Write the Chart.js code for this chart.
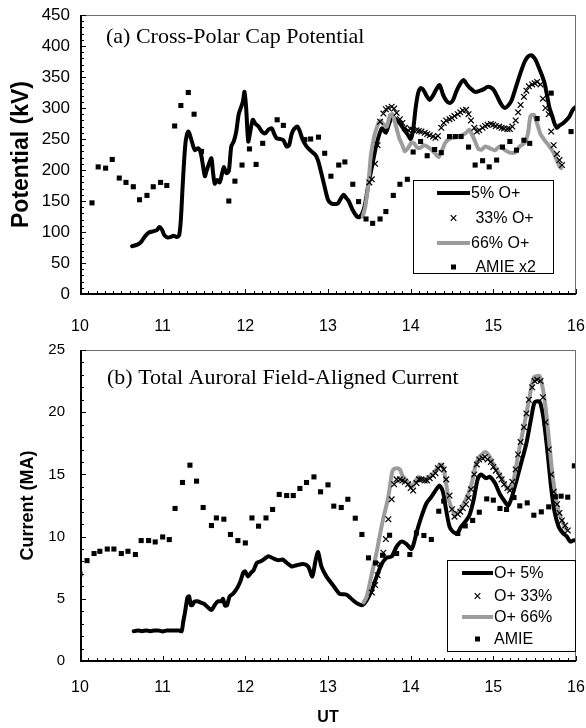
<!DOCTYPE html>
<html>
<head>
<meta charset="utf-8">
<script src="https://cdn.jsdelivr.net/npm/chart.js@4.4.1/dist/chart.umd.min.js"></script>
<style>
  html, body { margin: 0; padding: 0; background: #fff; }
  #wrap { position: relative; width: 586px; height: 728px; }
  canvas { position: absolute; left: 0; }
  #cTop { top: 0; }
  #cBot { top: 340px; }
</style>
</head>
<body>
<div id="wrap">
  <canvas id="cTop" width="586" height="340"></canvas>
  <canvas id="cBot" width="586" height="388"></canvas>
</div>
<script>
// ---------- (a) Cross-polar cap potential, kV ----------
const potTime5 = [10.63,10.70,10.74,10.78,10.83,10.88,10.93,10.96,10.99,11.02,
  11.06,11.10,11.13,11.17,11.20,11.22,11.24,11.26,11.28,11.31,
  11.34,11.37,11.39,11.43,11.46,11.49,11.51,11.53,11.56,11.59,
  11.61,11.63,11.66,11.69,11.72,11.74,11.77,11.80,11.83,11.86,
  11.89,11.92,11.95,11.97,11.99,12.01,12.035,12.06,12.09,12.12,
  12.16,12.20,12.24,12.28,12.32,12.35,12.38,12.42,12.46,12.50,
  12.53,12.56,12.59,12.63,12.66,12.69,12.74,12.80,12.85,12.88,
  12.91,12.95,13.00,13.04,13.09,13.12,13.16,13.19,13.22,13.25,
  13.30,13.35,13.38,13.42,13.45,13.49,13.54,13.59,13.65,13.70,
  13.74,13.78,13.82,13.87,13.92,13.97,14.00,14.03,14.06,14.09,
  14.12,14.15,14.19,14.23,14.27,14.31,14.35,14.39,14.43,14.47,
  14.51,14.55,14.59,14.64,14.68,14.72,14.78,14.84,14.88,14.93,
  14.97,15.01,15.06,15.10,15.14,15.18,15.22,15.26,15.30,15.34,
  15.38,15.42,15.46,15.50,15.53,15.56,15.59,15.62,15.65,15.68,
  15.71,15.74,15.77,15.80,15.84,15.88,15.92,15.96,16.00];
const potO5 = [77,80,84,92,99,101,103,108,104,95,
  91,92,94,92,95,120,170,216,248,262,
  252,238,232,235,228,205,190,198,210,219,
  195,178,184,180,195,205,195,198,238,246,
  262,290,302,310,326,300,246,262,281,275,
  270,262,259,265,267,258,251,250,248,238,
  240,258,266,270,262,250,238,230,224,215,
  200,178,152,146,145,146,155,160,155,150,
  135,125,124,132,146,178,211,243,267,260,
  275,286,282,275,265,256,250,265,300,324,
  332,330,320,313,320,330,337,322,312,308,
  312,326,337,345,338,332,326,328,330,334,
  333,328,315,305,300,304,312,328,345,361,
  375,383,385,380,372,362,352,340,320,300,
  288,275,268,272,275,280,286,297,302];

const potTime33 = [13.50,13.53,13.57,13.60,13.63,13.67,13.70,13.73,13.77,13.80,
  13.83,13.87,13.90,13.93,13.97,14.00,14.03,14.07,14.10,14.13,
  14.17,14.20,14.23,14.27,14.30,14.33,14.37,14.40,14.43,14.47,
  14.50,14.53,14.57,14.60,14.63,14.67,14.70,14.73,14.77,14.80,
  14.83,14.87,14.90,14.93,14.97,15.00,15.03,15.07,15.10,15.13,
  15.17,15.20,15.23,15.27,15.30,15.33,15.37,15.40,15.43,15.47,
  15.50,15.53,15.57,15.60,15.63,15.67,15.70,15.73,15.77,15.80,15.83];
const potO33 = [180,185,210,240,278,291,298,300,302,299,
  292,282,276,268,264,266,265,264,263,262,
  260,258,256,254,252,255,268,276,280,282,
  284,287,290,293,296,297,290,280,268,262,
  264,268,271,273,274,273,271,270,268,267,
  266,266,270,280,293,305,318,328,335,338,
  340,342,338,315,300,290,262,240,226,216,208];

const potTime66 = [13.42,13.45,13.49,13.52,13.56,13.60,13.63,13.67,13.71,13.75,
  13.78,13.82,13.86,13.90,13.93,13.97,14.01,14.04,14.08,14.12,
  14.16,14.20,14.25,14.30,14.34,14.38,14.42,14.48,14.55,14.62,
  14.67,14.71,14.74,14.78,14.82,14.86,14.90,14.96,15.02,15.08,
  15.14,15.20,15.26,15.32,15.38,15.42,15.45,15.49,15.53,15.57,
  15.62,15.67,15.72,15.76,15.80,15.82];
const potO66 = [125,140,180,225,255,272,280,274,270,288,
  290,272,252,240,230,236,244,243,236,236,
  240,238,233,226,221,232,244,251,253,256,
  260,265,258,246,234,233,238,235,232,238,
  232,228,228,238,244,260,287,289,275,258,
  248,240,230,218,206,203];

const potTimeAmie = [10.145,10.22,10.31,10.39,10.475,10.556,10.645,10.72,10.81,10.886,
  10.975,11.05,11.145,11.22,11.31,11.38,11.47,11.80,11.874,11.96,
  12.05,12.13,12.21,12.385,12.46,12.72,12.79,12.885,12.96,13.035,
  13.13,13.204,13.30,13.37,13.46,13.54,13.63,13.70,13.79,13.87,
  13.96,14.03,14.12,14.20,14.29,14.37,14.47,14.54,14.61,14.70,
  14.78,14.87,14.95,15.04,15.11,15.20,15.28,15.37,15.44,15.53,
  15.70,15.94];
const potAmieX2 = [147,205,203,217,187,180,173,152,159,173,
  180,175,271,304,325,290,230,150,182,208,
  234,209,243,281,272,249,250,253,227,190,
  208,213,177,149,121,114,121,133,159,177,
  185,229,246,223,233,228,254,254,254,237,
  208,215,205,216,237,246,232,248,243,283,
  324,262];

// ---------- (b) Total auroral field-aligned current, MA ----------
const curTime5 = [10.65,10.70,10.75,10.80,10.85,10.90,10.95,11.00,11.05,11.10,
  11.15,11.20,11.23,11.25,11.27,11.30,11.32,11.34,11.36,11.38,
  11.42,11.46,11.50,11.55,11.59,11.63,11.67,11.71,11.73,11.755,
  11.78,11.81,11.85,11.90,11.94,11.975,12.00,12.03,12.07,12.10,
  12.14,12.18,12.22,12.28,12.34,12.40,12.45,12.50,12.56,12.62,
  12.70,12.76,12.81,12.85,12.88,12.92,12.98,13.06,13.14,13.22,
  13.30,13.36,13.42,13.47,13.53,13.59,13.65,13.71,13.77,13.83,
  13.89,13.95,14.01,14.04,14.07,14.13,14.19,14.25,14.31,14.35,
  14.39,14.43,14.47,14.51,14.56,14.61,14.66,14.71,14.76,14.81,
  14.85,14.91,14.96,15.02,15.08,15.14,15.18,15.22,15.28,15.34,
  15.40,15.46,15.50,15.56,15.60,15.63,15.66,15.70,15.74,15.79,
  15.84,15.89,15.93,15.97,16.00];
const curO5 = [2.4,2.45,2.4,2.45,2.4,2.45,2.45,2.38,2.45,2.45,
  2.45,2.45,2.4,3.2,3.9,5.1,5.2,4.5,4.5,4.75,
  4.8,4.7,4.6,4.3,4.1,4.5,4.8,4.8,5.0,4.45,
  4.5,5.2,5.4,5.85,6.4,7.1,7.2,6.8,7.1,7.3,
  7.9,8.0,8.15,8.42,8.24,8.1,8.16,7.9,7.6,7.7,
  7.8,7.6,6.8,8.1,8.75,7.6,6.8,6.1,5.4,5.35,
  4.9,4.6,4.5,4.9,5.7,6.8,7.8,8.3,8.4,9.2,
  9.6,9.4,9.0,9.5,10.3,11.6,12.66,13.2,13.8,14.1,
  13.6,12.1,10.8,10.4,10.25,10.8,11.2,11.7,12.9,14.6,
  15.0,14.7,14.8,14.3,13.4,12.8,12.5,13.1,14.5,16.0,
  17.5,19.6,20.8,20.85,19.8,18.3,16.5,13.9,12.0,10.8,
  10.3,10.0,9.6,9.7,9.7];

const curTime33 = [13.53,13.57,13.60,13.63,13.67,13.70,13.73,13.77,13.80,13.83,
  13.87,13.90,13.93,13.97,14.00,14.03,14.07,14.10,14.13,14.17,
  14.20,14.23,14.27,14.30,14.33,14.37,14.40,14.43,14.47,14.50,
  14.53,14.57,14.60,14.63,14.67,14.70,14.73,14.77,14.80,14.83,
  14.87,14.90,14.93,14.97,15.00,15.03,15.07,15.10,15.13,15.17,
  15.20,15.23,15.27,15.30,15.33,15.37,15.40,15.43,15.47,15.50,
  15.53,15.57,15.60,15.63,15.67,15.70,15.73,15.77,15.80,15.83,
  15.87,15.90];
const curO33 = [5.5,6.1,6.9,7.8,8.7,9.8,11.4,13.0,14.2,14.6,
  14.6,14.5,14.4,14.2,13.9,13.7,14.3,14.6,14.6,14.5,
  14.5,14.7,14.9,15.1,15.5,15.7,15.4,14.6,13.3,12.2,
  11.6,11.8,12.0,12.3,12.6,13.1,13.8,15.0,15.8,16.2,
  16.3,16.4,16.2,16.0,15.6,15.3,14.9,14.6,14.2,13.9,
  13.7,14.4,15.4,16.6,17.6,18.8,19.9,21.0,22.0,22.5,
  22.6,22.5,21.2,19.2,17.0,15.0,13.6,12.6,11.9,11.3,
  10.9,10.5];

const curTime66 = [13.43,13.47,13.51,13.55,13.59,13.63,13.67,13.71,13.74,13.77,
  13.79,13.83,13.87,13.90,13.94,13.98,14.02,14.06,14.10,14.14,
  14.18,14.22,14.26,14.30,14.34,14.37,14.40,14.43,14.46,14.50,
  14.54,14.58,14.62,14.66,14.70,14.74,14.78,14.82,14.86,14.90,
  14.94,14.98,15.02,15.06,15.10,15.14,15.18,15.22,15.26,15.30,
  15.34,15.38,15.42,15.46,15.49,15.52,15.56,15.59,15.62,15.65,
  15.68,15.71,15.74,15.77,15.80,15.84,15.88];
const curO66 = [4.7,5.2,6.4,7.6,8.8,10.2,11.5,12.6,13.6,15.0,
  15.4,15.5,15.4,14.9,14.6,14.3,14.0,14.5,14.8,14.6,
  14.6,14.8,15.0,15.3,15.7,15.8,15.4,14.2,13.0,12.2,
  11.8,12.0,12.4,12.9,13.5,14.3,15.6,16.3,16.6,16.8,
  16.6,16.1,15.6,15.2,14.7,14.2,13.8,14.0,15.0,16.6,
  17.9,19.2,20.6,22.0,22.8,22.9,22.9,22.2,21.0,19.3,
  17.3,15.3,13.8,12.6,11.8,11.1,10.6];

const curTimeAmie = [10.0,10.085,10.17,10.24,10.33,10.41,10.50,10.58,10.67,10.74,
  10.83,10.91,11.0,11.08,11.15,11.24,11.33,11.41,11.49,11.59,
  11.65,11.74,11.82,11.91,12.0,12.08,12.16,12.25,12.33,12.41,
  12.50,12.58,12.66,12.74,12.83,12.91,13.0,13.07,13.16,13.24,
  13.33,13.41,13.49,13.575,13.66,13.745,13.83,13.99,14.07,14.16,
  14.25,14.34,14.40,14.57,14.66,14.75,14.83,14.92,15.0,15.08,
  15.16,15.25,15.32,15.41,15.49,15.58,15.67,15.75,15.82,15.90,
  15.98];
const curAmie = [7.0,8.07,8.64,8.82,9.0,9.0,8.64,8.82,8.56,9.68,
  9.68,9.57,9.97,9.76,12.26,14.35,15.74,14.46,12.34,10.89,
  11.5,11.4,10.17,9.68,9.49,11.5,10.84,11.5,12.18,13.39,
  13.3,13.3,13.87,14.35,14.8,13.6,14.16,12.45,12.34,13.0,
  11.48,10.17,8.29,7.88,8.5,10.11,8.64,8.56,10.3,10.09,
  9.77,12.04,12.85,10.25,10.86,11.3,11.96,13.03,12.93,12.26,
  12.18,13.14,12.47,12.71,11.72,11.99,12.39,13.2,13.25,13.17,
  15.69];

const utTicks = [10, 11, 12, 13, 14, 15, 16];
const potTicks = [0, 50, 100, 150, 200, 250, 300, 350, 400, 450];
const curTicks = [0, 5, 10, 15, 20, 25];

// ---------- shared helpers ----------
const SANS = '"Liberation Sans", Arial, sans-serif';
const SERIF = '"Liberation Serif", "Times New Roman", serif';
const GREY = '#9c9c9c';
const xy = (xs, ys) => xs.map((x, i) => ({ x, y: ys[i] }));

function lineSet(label, xs, ys, color, order) {
  return { label, data: xy(xs, ys), showLine: true, borderColor: color,
    borderWidth: 4, pointRadius: 0, tension: 0.25, order,
    borderCapStyle: 'round', borderJoinStyle: 'round' };
}
function crossSet(label, xs, ys, order) {
  return { label, data: xy(xs, ys), showLine: false, pointStyle: 'crossRot',
    pointRadius: 4, borderColor: '#000', borderWidth: 1.2, order };
}
function squareSet(label, xs, ys, order) {
  return { label, data: xy(xs, ys), showLine: false, pointStyle: 'rect',
    pointRadius: 3.6, backgroundColor: '#000', borderColor: '#000', borderWidth: 0, order };
}

// plot frame with small inward tick marks, placed from the scales
function drawFrame(chart, spec) {
  const ctx = chart.ctx;
  const sx = chart.scales.x, sy = chart.scales.y;
  const L = Math.round(sx.getPixelForValue(spec.xMin));
  const R = Math.round(sx.getPixelForValue(spec.xMax));
  const T = Math.round(sy.getPixelForValue(spec.yMax));
  const B = Math.round(sy.getPixelForValue(spec.yMin));
  ctx.save();
  ctx.fillStyle = '#6e6e6e';
  ctx.fillRect(L, T, R - L, 1);          // top edge
  ctx.fillRect(R - 1, T, 1, B - T);      // right edge
  ctx.fillStyle = '#000000';
  const nx = Math.round((spec.xMax - spec.xMin) / spec.xMinor);
  const xEvery = Math.round(1 / spec.xMinor);
  for (let i = 0; i <= nx; i++) {
    const px = Math.round(sx.getPixelForValue(spec.xMin + i * spec.xMinor));
    const len = (i % xEvery === 0) ? 5 : 3;
    ctx.fillRect(px, B - len, 1, len);
  }
  const ny = Math.round((spec.yMax - spec.yMin) / spec.yMinor);
  const yEvery = Math.round(spec.yMajor / spec.yMinor);
  for (let i = 0; i <= ny; i++) {
    const py = Math.round(sy.getPixelForValue(spec.yMin + i * spec.yMinor));
    const len = (i % yEvery === 0) ? 5 : 3;
    ctx.fillRect(L, py, len + 1, 1);
  }
  ctx.fillRect(L, T, 2, B - T + 1);      // left axis
  ctx.fillRect(L, B - 1, R - L, 2);      // bottom axis
  ctx.restore();
}

// panel caption and boxed key
function drawCaptionAndKey(chart, spec) {
  const ctx = chart.ctx;
  ctx.save();
  ctx.fillStyle = '#000';
  ctx.font = '22px ' + SERIF;
  ctx.textBaseline = 'middle';
  ctx.textAlign = 'left';
  ctx.fillText(spec.caption, spec.capX, spec.capY);
  const k = spec.key;
  ctx.fillStyle = '#fff';
  ctx.fillRect(k.left, k.top, k.w, k.h);
  ctx.strokeStyle = '#000';
  ctx.lineWidth = 1;
  ctx.strokeRect(k.left + 0.5, k.top + 0.5, k.w - 1, k.h - 1);
  ctx.font = '16px ' + SANS;
  k.items.forEach((it, i) => {
    const cy = k.rowY[i];
    const mid = (k.sx0 + k.sx1) / 2;
    if (it.kind === 'line') {
      ctx.fillStyle = it.color;
      ctx.fillRect(k.sx0, cy - 2, k.sx1 - k.sx0, 4);
    } else if (it.kind === 'cross') {
      ctx.strokeStyle = '#000'; ctx.lineWidth = 1.2;
      const s = 2.8;
      ctx.beginPath();
      ctx.moveTo(mid - s, cy - s); ctx.lineTo(mid + s, cy + s);
      ctx.moveTo(mid - s, cy + s); ctx.lineTo(mid + s, cy - s);
      ctx.stroke();
    } else {
      ctx.fillStyle = '#000';
      ctx.fillRect(mid - 2.5, cy - 2.5, 5, 5);
    }
    ctx.fillStyle = '#000';
    ctx.fillText(it.text, k.tx, cy + 1);
  });
  ctx.restore();
}

function makePanel(canvasId, cfg) {
  const decorPlugin = {
    id: 'decor_' + canvasId,
    afterDraw(chart) {
      drawFrame(chart, cfg.frame);
      drawCaptionAndKey(chart, cfg.decor);
    }
  };
  return new Chart(document.getElementById(canvasId), {
    type: 'scatter',
    data: { datasets: cfg.datasets },
    options: {
      responsive: false, animation: false, events: [],
      layout: { padding: { left: 0, right: 10, top: cfg.padTop, bottom: 0 } },
      scales: {
        x: {
          type: 'linear', min: 10, max: 16,
          afterBuildTicks: s => { s.ticks = utTicks.map(v => ({ value: v })); },
          afterFit: s => { s.height = cfg.xHeight; s.paddingLeft = 0; s.paddingRight = 0; },
          grid: { display: false, drawTicks: false },
          border: { display: false },
          ticks: { color: '#000', padding: cfg.xPad, font: { family: SANS, size: 16 } },
          title: cfg.xTitle
        },
        y: {
          min: cfg.frame.yMin, max: cfg.frame.yMax,
          afterBuildTicks: s => { s.ticks = cfg.yTicks.map(v => ({ value: v })); },
          afterFit: s => { s.width = 80; s.paddingTop = 0; s.paddingBottom = 0; },
          grid: { display: false, drawTicks: false },
          border: { display: false },
          ticks: { color: '#000', padding: cfg.yPad, font: { family: SANS, size: cfg.yFont } },
          title: cfg.yTitle
        }
      },
      plugins: { legend: { display: false }, tooltip: { enabled: false } }
    },
    plugins: [decorPlugin]
  });
}

makePanel('cTop', {
  padTop: 15, xHeight: 46, xPad: 23, yPad: 10, yFont: 17,
  yTicks: potTicks,
  frame: { xMin: 10, xMax: 16, xMinor: 0.1, yMin: 0, yMax: 450, yMinor: 10, yMajor: 50 },
  xTitle: { display: false },
  yTitle: { display: true, text: 'Potential (kV)', color: '#000',
    font: { family: SANS, size: 23, weight: 'bold' }, padding: { top: 8, bottom: 0 } },
  datasets: [
    squareSet('AMIE x2', potTimeAmie, potAmieX2, 1),
    crossSet('33% O+', potTime33, potO33, 2),
    lineSet('66% O+', potTime66, potO66, GREY, 3),
    lineSet('5% O+', potTime5, potO5, '#000', 4)
  ],
  decor: {
    caption: '(a) Cross-Polar Cap Potential', capX: 106, capY: 37,
    key: { left: 413, top: 180, w: 141, h: 94, sx0: 437, sx1: 470, tx: 471,
      rowY: [193, 218, 243, 267],
      items: [
        { kind: 'line', color: '#000', text: '5% O+' },
        { kind: 'cross', text: ' 33% O+' },
        { kind: 'line', color: GREY, text: '66% O+' },
        { kind: 'rect', text: ' AMIE x2' }
      ] }
  }
});

makePanel('cBot', {
  padTop: 10, xHeight: 67, xPad: 17, yPad: 15, yFont: 15,
  yTicks: curTicks,
  frame: { xMin: 10, xMax: 16, xMinor: 0.1, yMin: 0, yMax: 25, yMinor: 1, yMajor: 5 },
  xTitle: { display: true, text: 'UT', color: '#000',
    font: { family: SANS, size: 16, weight: 'bold' }, padding: { top: 0, bottom: 1 } },
  yTitle: { display: true, text: 'Current (MA)', color: '#000',
    font: { family: SANS, size: 18, weight: 'bold' }, padding: { top: 17, bottom: 0 } },
  datasets: [
    squareSet('AMIE', curTimeAmie, curAmie, 1),
    crossSet('O+ 33%', curTime33, curO33, 2),
    lineSet('O+ 66%', curTime66, curO66, GREY, 3),
    lineSet('O+ 5%', curTime5, curO5, '#000', 4)
  ],
  decor: {
    caption: '(b) Total Auroral Field-Aligned Current', capX: 107, capY: 38,
    key: { left: 447, top: 220, w: 129, h: 92, sx0: 462, sx1: 493, tx: 494,
      rowY: [233, 256, 277, 299],
      items: [
        { kind: 'line', color: '#000', text: 'O+ 5%' },
        { kind: 'cross', text: 'O+ 33%' },
        { kind: 'line', color: GREY, text: 'O+ 66%' },
        { kind: 'rect', text: 'AMIE' }
      ] }
  }
});
</script>
</body>
</html>
